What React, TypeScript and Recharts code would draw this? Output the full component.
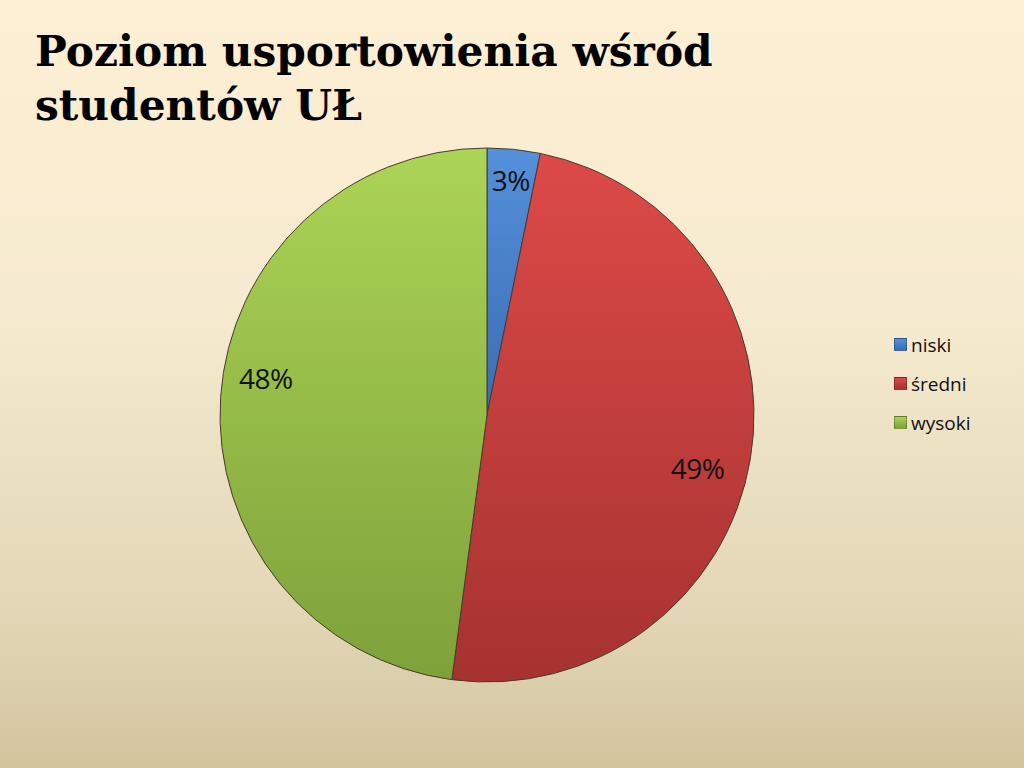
import { PieChart, Pie, Cell, Legend } from "recharts";

const categories = ["niski", "średni", "wysoki"];
const shares = [3.2, 48.9, 47.9];
const title = ["Poziom usportowienia wśród", "studentów UŁ"];

const colorsTop = ["#5590da", "#dc4a48", "#acd456"];
const colorsBottom = ["#3a6cb2", "#a63230", "#7ea13a"];
// label placement tweaks (radius factor, vertical nudge)
const labelRadius = [0.885, 0.8, 0.83];
const labelNudge = [0, 18, -22];

const data = categories.map((name, i) => ({ name, value: shares[i] }));

const RAD = Math.PI / 180;

function renderLabel(props: any) {
  const { cx, cy, midAngle, outerRadius, percent, index } = props;
  const r = outerRadius * labelRadius[index];
  const x = cx + r * Math.cos(-midAngle * RAD);
  const y = cy + r * Math.sin(-midAngle * RAD) + labelNudge[index];
  return (
    <text
      x={x}
      y={y}
      fill="#111"
      textAnchor="middle"
      dominantBaseline="central"
      fontSize={28}
      fontFamily="'Open Sans', sans-serif"
      letterSpacing={-0.5}
    >
      {`${Math.round(percent * 100)}%`}
    </text>
  );
}

function LegendContent() {
  return (
    <div style={{ fontFamily: "'Open Sans', sans-serif", fontSize: 19, color: "#111" }}>
      {categories.map((c, i) => (
        <div key={c} style={{ display: "flex", alignItems: "center", height: 39 }}>
          <span
            style={{
              width: 11,
              height: 11,
              marginRight: 4,
              background: `linear-gradient(${colorsTop[i]}, ${colorsBottom[i]})`,
              border: "1px solid rgba(0,0,0,0.25)",
            }}
          />
          {c}
        </div>
      ))}
    </div>
  );
}

export default function App() {
  return (
    <div
      style={{
        position: "absolute",
        left: 0,
        top: 0,
        width: 1024,
        height: 768,
        overflow: "hidden",
        background: "linear-gradient(#fdefd3 0%, #f6ead0 40%, #e2d6b6 80%, #d3c49d 100%)",
      }}
    >
      <div
        style={{
          position: "absolute",
          left: 35,
          top: 24,
          fontFamily: "'DejaVu Serif', serif",
          fontWeight: 900,
          fontSize: 42.3,
          lineHeight: "54px",
          color: "#000",
        }}
      >
        {title[0]}
        <br />
        {title[1]}
      </div>
      <PieChart
        width={1024}
        height={768}
        margin={{ top: 0, right: 0, bottom: 0, left: 0 }}
        style={{ position: "absolute", left: 0, top: 0 }}
      >
        <defs>
          {categories.map((c, i) => (
            <linearGradient key={c} id={`g${i}`} x1="0" y1="0" x2="0" y2="1">
              <stop offset="0%" stopColor={colorsTop[i]} />
              <stop offset="100%" stopColor={colorsBottom[i]} />
            </linearGradient>
          ))}
        </defs>
        <Pie
          data={data}
          dataKey="value"
          nameKey="name"
          cx={487}
          cy={415}
          outerRadius={267}
          startAngle={90}
          endAngle={-270}
          stroke="#4a3b2c"
          strokeWidth={1}
          label={renderLabel}
          labelLine={false}
          isAnimationActive={false}
        >
          {data.map((d, i) => (
            <Cell key={d.name} fill={`url(#g${i})`} />
          ))}
        </Pie>
        <Legend
          layout="vertical"
          align="right"
          verticalAlign="top"
          wrapperStyle={{ left: 894, top: 325, width: 120 }}
          content={<LegendContent />}
        />
      </PieChart>
    </div>
  );
}
